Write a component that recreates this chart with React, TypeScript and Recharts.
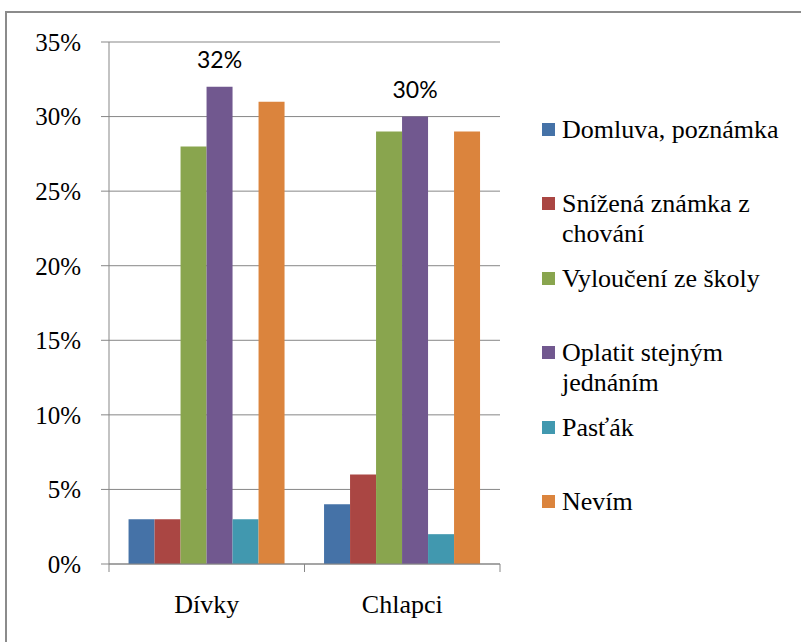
import { Bar, BarChart, CartesianGrid, LabelList, XAxis, YAxis } from "recharts";

// Reaction to bullying, girls vs boys (percent of answers)
const CATEGORIES = ["Dívky", "Chlapci"];
const SERIES_NAMES = [
  "Domluva, poznámka",
  "Snížená známka z chování",
  "Vyloučení ze školy",
  "Oplatit stejným jednáním",
  "Pasťák",
  "Nevím",
];
const DOMLUVA = [3, 4];
const SNIZENA = [3, 6];
const VYLOUCENI = [28, 29];
const OPLATIT = [32, 30];
const PASTAK = [3, 2];
const NEVIM = [31, 29];
const Y_TICKS = [0, 5, 10, 15, 20, 25, 30, 35];

const COLORS = ["#4572A7", "#AA4643", "#89A54E", "#71588F", "#4198AF", "#DB843D"];
const SERIES = [DOMLUVA, SNIZENA, VYLOUCENI, OPLATIT, PASTAK, NEVIM];
const KEYS = ["s0", "s1", "s2", "s3", "s4", "s5"];

const data = CATEGORIES.map((name, i) => {
  const row: Record<string, string | number> = { name };
  SERIES.forEach((s, j) => {
    row[KEYS[j]] = s[i];
  });
  return row;
});

const GRID = "#878787";
const SERIF =
  "'Times New Roman', Tinos, 'Liberation Serif', 'DejaVu Serif', 'Noto Serif', Times, serif";
const LABEL_FONT = "Lato, 'Open Sans', sans-serif";
const W = 801;
const H = 642;
const MARGIN = { top: 42, right: 301, bottom: 28, left: 9 };
const Y_AXIS_W = 100;
const TICK = 8;
const BAND = (W - MARGIN.left - MARGIN.right - Y_AXIS_W) / CATEGORIES.length;

// category axis: boundary ticks like Excel, label in the middle of the band
function CategoryTick(props: any) {
  const { x, y, payload, index } = props;
  const axisY = y - TICK;
  const half = BAND / 2;
  return (
    <g>
      <line x1={x - half} y1={axisY} x2={x - half} y2={axisY + TICK} stroke={GRID} />
      {index === CATEGORIES.length - 1 && (
        <line x1={x + half} y1={axisY} x2={x + half} y2={axisY + TICK} stroke={GRID} />
      )}
      <text
        x={x}
        y={axisY + 49}
        textAnchor="middle"
        style={{ fontFamily: SERIF, fontSize: 26 }}
        fill="#000"
      >
        {payload.value}
      </text>
    </g>
  );
}

function SideLegend() {
  return (
    <div style={{ position: "absolute", left: 542, top: 115, width: 250 }}>
      {SERIES_NAMES.map((name, i) => (
        <div
          key={name}
          style={{
            position: "absolute",
            left: 0,
            top: 74.4 * i,
            display: "flex",
            alignItems: "flex-start",
          }}
        >
          <span
            style={{
              display: "inline-block",
              width: 13,
              height: 13,
              marginTop: 8,
              marginRight: 7,
              background: COLORS[i],
              flex: "none",
            }}
          />
          <span
            style={{
              width: 228,
              fontFamily: SERIF,
              fontSize: 26,
              lineHeight: "30px",
              color: "#000",
            }}
          >
            {name}
          </span>
        </div>
      ))}
    </div>
  );
}

export default function App() {
  return (
    <div
      style={{
        position: "absolute",
        left: 0,
        top: 0,
        width: W,
        height: H,
        overflow: "hidden",
        background: "#fff",
      }}
    >
      <div
        style={{
          position: "absolute",
          left: 5,
          top: 11,
          width: 900,
          height: 800,
          border: "2px solid #8b8b8b",
        }}
      />
      <div style={{ position: "absolute", left: 0, top: 0 }}>
        <BarChart
          width={W}
          height={H}
          data={data}
          margin={MARGIN}
          barCategoryGap="10%"
          barGap={0}
        >
          <CartesianGrid vertical={false} stroke={GRID} />
          <XAxis
            dataKey="name"
            height={50}
            stroke={GRID}
            tickLine={false}
            tickSize={TICK}
            tickMargin={0}
            tick={<CategoryTick />}
            interval={0}
          />
          <YAxis
            width={Y_AXIS_W}
            domain={[0, 35]}
            ticks={Y_TICKS}
            interval={0}
            stroke={GRID}
            tickSize={TICK}
            tickMargin={20}
            tickFormatter={(v: number) => `${v}%`}
            tick={{ style: { fontFamily: SERIF, fontSize: 25 }, fill: "#000" }}
          />
          {KEYS.map((k, j) => (
            <Bar
              key={k}
              dataKey={k}
              name={SERIES_NAMES[j]}
              fill={COLORS[j]}
              isAnimationActive={false}
            >
              {j === 3 && (
                <LabelList
                  dataKey={k}
                  position="top"
                  offset={19}
                  formatter={(v: any) => `${v}%`}
                  style={{ fontFamily: LABEL_FONT, fontSize: 23, fill: "#000" }}
                />
              )}
            </Bar>
          ))}
        </BarChart>
      </div>
      <SideLegend />
    </div>
  );
}
